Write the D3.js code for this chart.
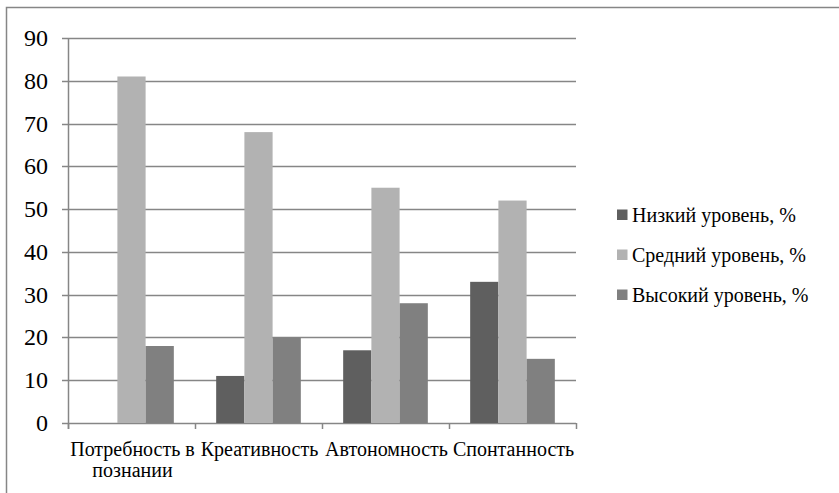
<!DOCTYPE html>
<html><head><meta charset="utf-8">
<script src="https://cdn.jsdelivr.net/npm/d3@7"></script>
<style>
body{margin:0;background:#fff}
svg text, svg tspan{font-family:"Liberation Serif", Tinos, "Times New Roman", serif !important;}
</style>
</head><body>
<svg id="c" width="839" height="493" font-family="Liberation Serif" style="display:block;font-family:'Liberation Serif'"></svg>
<script>
const categories = [["Потребность в","познании"],["Креативность"],["Автономность"],["Спонтанность"]];
const seriesNames = ["Низкий уровень, %","Средний уровень, %","Высокий уровень, %"];
const low = [0, 11, 17, 33];
const mid = [81, 68, 55, 52];
const high = [18, 20, 28, 15];
const yTicks = [0,10,20,30,40,50,60,70,80,90];
const colors = ["#5f5f5f","#b2b2b2","#808080"];
const series = [low, mid, high];

const svg = d3.select("#c");
const FF = "Liberation Serif";
const L = 68, R = 576, T = 38, B = 423;

svg.append("path").attr("d","M6.5,493 L6.5,7.5 L839,7.5").attr("fill","none").attr("stroke","#868686").attr("stroke-width",1.5);

const x = d3.scaleBand().domain(d3.range(categories.length)).range([L,R]).paddingInner(0).paddingOuter(0);
const y = d3.scaleLinear().domain([0,90]).range([B,T]);
const inner = d3.scaleBand().domain(d3.range(3)).range([0,x.bandwidth()]).paddingOuter(0.75).paddingInner(0);

svg.append("g").selectAll("line").data(yTicks).join("line")
  .attr("x1",L-6).attr("x2",R).attr("y1",d=>Math.round(y(d))+0.5).attr("y2",d=>Math.round(y(d))+0.5)
  .attr("stroke","#868686").attr("stroke-width",1.5);

series.forEach((s,si)=>{
  svg.append("g").selectAll("rect").data(s).join("rect")
    .attr("x",(d,i)=>x(i)+inner(si)).attr("width",inner.bandwidth())
    .attr("y",d=>y(d)).attr("height",d=>B-y(d)).attr("fill",colors[si]);
});

svg.append("line").attr("x1",L+0.5).attr("x2",L+0.5).attr("y1",T).attr("y2",B+6).attr("stroke","#868686").attr("stroke-width",1.5);
svg.append("g").selectAll("line").data(d3.range(categories.length+1)).join("line")
  .attr("x1",d=>L+d*x.bandwidth()+0.5).attr("x2",d=>L+d*x.bandwidth()+0.5).attr("y1",B).attr("y2",B+6)
  .attr("stroke","#868686").attr("stroke-width",1.5);

svg.append("g").selectAll("text").data(yTicks).join("text")
  .attr("x",48).attr("y",d=>y(d)+8).attr("text-anchor","end")
  .attr("font-family",FF).attr("font-size",24).attr("fill","#000").text(d=>d);

const cat = svg.append("g").selectAll("text").data(categories).join("text")
  .attr("x",(d,i)=>x(i)+x.bandwidth()/2+1).attr("y",456).attr("text-anchor","middle")
  .attr("font-family",FF).attr("font-size",20).attr("fill","#000");
cat.selectAll("tspan").data(d=>d).join("tspan")
  .attr("x",function(){return d3.select(this.parentNode).attr("x");})
  .attr("dy",(d,i)=>i?21:0).text(d=>d);

const lg = svg.append("g").selectAll("g").data(seriesNames).join("g")
  .attr("transform",(d,i)=>`translate(617,${215+i*40})`);
lg.append("rect").attr("x",0).attr("y",-5.5).attr("width",10.5).attr("height",10.5).attr("fill",(d,i)=>colors[i]);
lg.append("text").attr("x",15).attr("y",6.5).attr("font-family",FF).attr("font-size",20).attr("fill","#000").text(d=>d);
</script>
</body></html>
